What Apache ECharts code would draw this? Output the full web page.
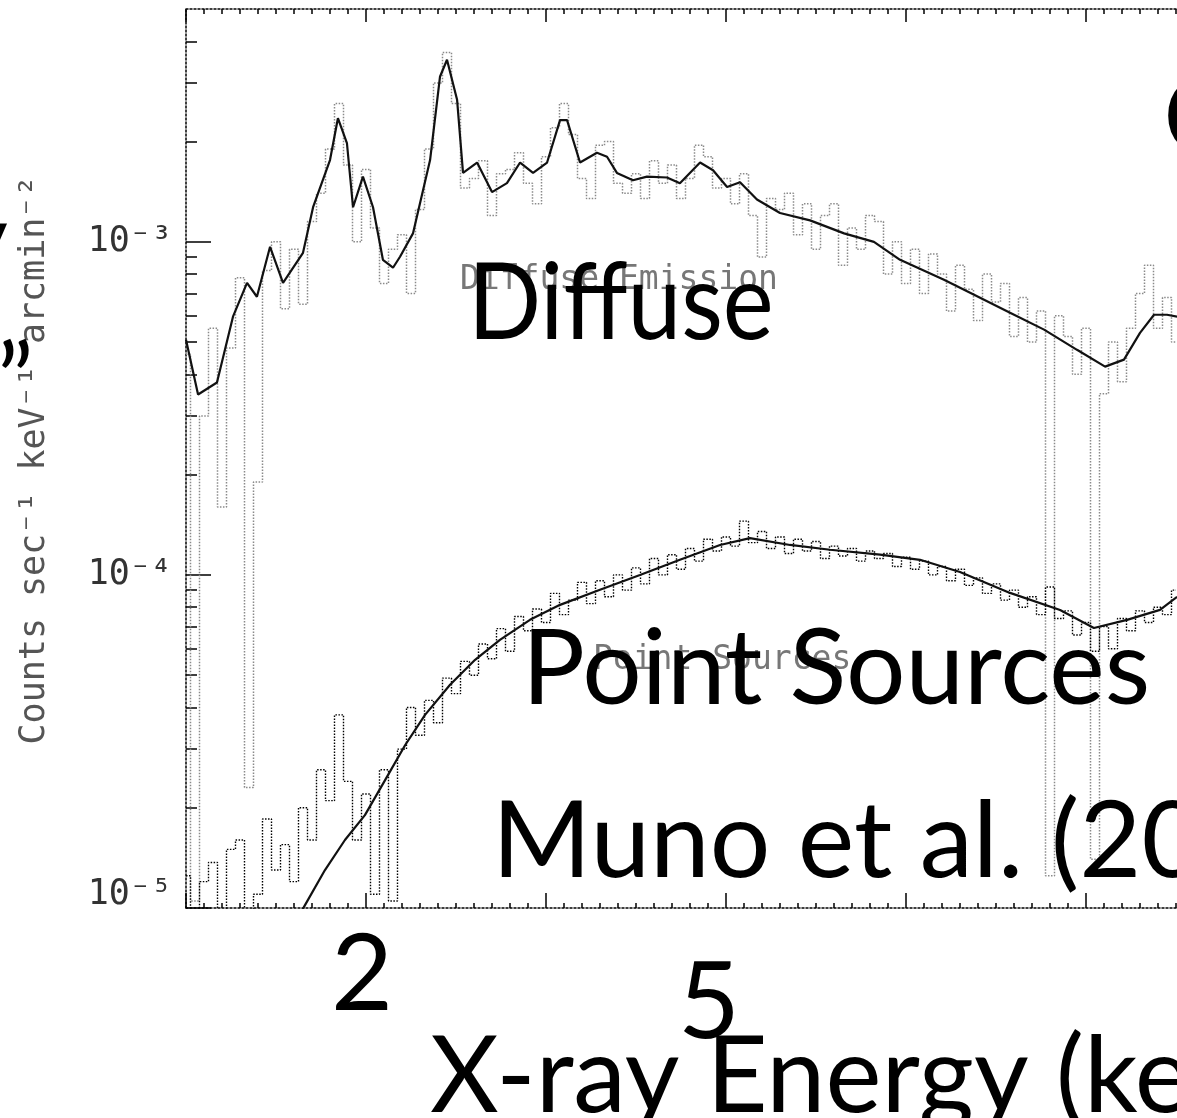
<!DOCTYPE html>
<html><head><meta charset="utf-8">
<script src="https://cdn.jsdelivr.net/npm/echarts@6/dist/echarts.min.js"></script>
<style>html,body{margin:0;padding:0;background:#fff}#c{width:1177px;height:1118px}</style>
</head><body><div id="c"></div>
<script>
// energy bins (keV) of the binned spectra
const binE = [
 1.00,1.05,1.10,1.15,1.20,1.25,1.30,1.35,1.40,1.45,
 1.50,1.55,1.60,1.65,1.70,1.75,1.80,1.85,1.90,1.95,
 2.00,2.05,2.10,2.15,2.20,2.25,2.30,2.35,2.40,2.45,
 2.50,2.55,2.60,2.65,2.70,2.75,2.80,2.85,2.90,2.95,
 3.00,3.05,3.10,3.15,3.20,3.25,3.30,3.35,3.40,3.45,
 3.50,3.55,3.60,3.65,3.70,3.75,3.80,3.85,3.90,3.95,
 4.00,4.05,4.10,4.15,4.20,4.25,4.30,4.35,4.40,4.45,
 4.50,4.55,4.60,4.65,4.70,4.75,4.80,4.85,4.90,4.95,
 5.00,5.05,5.10,5.15,5.20,5.25,5.30,5.35,5.40,5.45,
 5.50,5.55,5.60,5.65,5.70,5.75,5.80,5.85,5.90,5.95,
 6.00,6.05,6.10,6.15,6.20,6.25,6.30,6.35,6.40,6.45,6.50];
// diffuse emission spectrum (counts s^-1 keV^-1 arcmin^-2)
const diffuseData = [
 4.6e-4,1.05e-5,3.0e-4,5.5e-4,1.6e-4,4.8e-4,7.8e-4,2.3e-5,1.9e-4,8.2e-4,
 1.0e-3,6.3e-4,9.5e-4,6.5e-4,1.15e-3,1.4e-3,1.9e-3,2.6e-3,1.7e-3,1.0e-3,
 1.65e-3,1.1e-3,7.5e-4,9.5e-4,1.05e-3,7.0e-4,1.25e-3,1.9e-3,3.0e-3,3.7e-3,
 2.6e-3,1.45e-3,1.55e-3,1.75e-3,1.2e-3,1.6e-3,1.65e-3,1.85e-3,1.5e-3,1.3e-3,
 1.8e-3,2.2e-3,2.6e-3,2.1e-3,1.55e-3,1.35e-3,1.95e-3,2.0e-3,1.5e-3,1.4e-3,
 1.6e-3,1.35e-3,1.75e-3,1.5e-3,1.7e-3,1.35e-3,1.55e-3,1.95e-3,1.8e-3,1.45e-3,
 1.55e-3,1.3e-3,1.6e-3,1.2e-3,9.0e-4,1.35e-3,1.25e-3,1.4e-3,1.05e-3,1.3e-3,
 9.5e-4,1.2e-3,1.3e-3,8.5e-4,1.1e-3,9.5e-4,1.2e-3,1.15e-3,8.0e-4,1.0e-3,
 7.5e-4,9.5e-4,7.0e-4,9.2e-4,8.0e-4,6.2e-4,8.5e-4,7.2e-4,5.8e-4,8.0e-4,
 6.6e-4,7.5e-4,5.2e-4,6.8e-4,5.0e-4,6.2e-4,1.25e-5,6.0e-4,5.2e-4,4.0e-4,
 5.5e-4,1.4e-5,3.5e-4,5.0e-4,3.8e-4,5.5e-4,7.0e-4,8.5e-4,5.5e-4,6.8e-4,5.0e-4];
// point source spectrum
const pointData = [
 1.25e-5,5e-6,1.2e-5,1.37e-5,5e-6,1.5e-5,1.6e-5,5e-6,1.1e-5,1.85e-5,
 1.3e-5,1.55e-5,1.2e-5,2.0e-5,1.6e-5,2.6e-5,2.1e-5,3.8e-5,2.4e-5,1.6e-5,
 2.2e-5,1.1e-5,2.6e-5,1.05e-5,3.0e-5,4.0e-5,3.3e-5,4.2e-5,3.6e-5,4.9e-5,
 4.4e-5,5.5e-5,5.0e-5,6.2e-5,5.6e-5,6.9e-5,5.9e-5,7.5e-5,6.8e-5,7.9e-5,
 7.2e-5,8.8e-5,7.6e-5,8.4e-5,9.5e-5,8.2e-5,9.6e-5,8.6e-5,1.0e-4,9.0e-5,
 1.05e-4,9.4e-5,1.12e-4,1.0e-4,1.15e-4,1.04e-4,1.2e-4,1.1e-4,1.28e-4,1.18e-4,
 1.3e-4,1.22e-4,1.45e-4,1.25e-4,1.35e-4,1.2e-4,1.3e-4,1.16e-4,1.28e-4,1.18e-4,
 1.26e-4,1.12e-4,1.22e-4,1.14e-4,1.2e-4,1.1e-4,1.18e-4,1.12e-4,1.16e-4,1.06e-4,
 1.13e-4,1.04e-4,1.1e-4,1.0e-4,1.06e-4,9.6e-5,1.04e-4,9.3e-5,9.8e-5,8.8e-5,
 9.4e-5,8.4e-5,9.0e-5,8.0e-5,8.6e-5,7.6e-5,9.2e-5,7.4e-5,7.8e-5,6.6e-5,
 7.2e-5,5.9e-5,7.0e-5,6.0e-5,7.4e-5,6.8e-5,7.8e-5,7.2e-5,8.0e-5,7.6e-5,9.0e-5];
// best-fit models
const diffuseModelE = [1.000,1.067,1.172,1.261,1.339,1.394,1.467,1.539,1.650,1.706,
 1.800,1.844,1.894,1.928,1.983,2.039,2.094,2.150,2.189,2.261,
 2.356,2.411,2.450,2.506,2.539,2.617,2.700,2.783,2.856,2.928,
 3.006,3.078,3.117,3.189,3.283,3.339,3.394,3.483,3.561,3.672,
 3.744,3.856,3.928,4.006,4.078,4.172,4.300,4.467,4.656,4.822,
 4.967,5.211,5.356,5.578,5.767,5.950,6.106,6.211,6.300,6.378,6.450,6.506];
const diffuseModel = [5.08e-4,3.48e-4,3.78e-4,5.96e-4,7.53e-4,6.84e-4,9.66e-4,7.53e-4,9.27e-4,1.27e-3,
 1.76e-3,2.35e-3,1.98e-3,1.27e-3,1.57e-3,1.27e-3,8.83e-4,8.36e-4,9.02e-4,1.06e-3,
 1.76e-3,3.13e-3,3.52e-3,2.67e-3,1.61e-3,1.73e-3,1.41e-3,1.50e-3,1.73e-3,1.61e-3,
 1.73e-3,2.32e-3,2.32e-3,1.73e-3,1.85e-3,1.80e-3,1.61e-3,1.53e-3,1.57e-3,1.56e-3,
 1.50e-3,1.73e-3,1.64e-3,1.46e-3,1.51e-3,1.34e-3,1.22e-3,1.16e-3,1.06e-3,1.00e-3,
 8.83e-4,7.69e-4,7.03e-4,6.12e-4,5.45e-4,4.74e-4,4.22e-4,4.43e-4,5.33e-4,6.04e-4,6.04e-4,5.96e-4];
const pointModelE = [1.550,1.661,1.772,1.883,1.994,2.106,2.217,2.328,2.467,2.606,2.744,
 2.911,3.078,3.300,3.522,3.744,3.967,4.133,4.356,4.578,4.856,
 5.078,5.300,5.578,5.856,6.044,6.228,6.411,6.506];
const pointModel = [8.0e-6,1.02e-5,1.30e-5,1.60e-5,1.90e-5,2.42e-5,3.08e-5,3.80e-5,4.68e-5,5.56e-5,6.38e-5,
 7.33e-5,8.13e-5,9.02e-5,1.00e-4,1.11e-4,1.23e-4,1.29e-4,1.23e-4,1.19e-4,1.15e-4,
 1.11e-4,1.02e-4,8.83e-5,7.85e-5,6.93e-5,7.33e-5,7.85e-5,8.59e-5];
// axis ticks
const yTickValues = [1e-5, 1e-4, 1e-3];
const yTickLabels = ['10⁻⁵', '10⁻⁴', '10⁻³'];
const yMinorTickValues = [2e-5,3e-5,4e-5,5e-5,6e-5,7e-5,8e-5,9e-5,
 2e-4,3e-4,4e-4,5e-4,6e-4,7e-4,8e-4,9e-4,2e-3,3e-3,4e-3];

const pair = (xs, ys) => xs.map((x, i) => [x, ys[i]]);
const mono = '"DejaVu Sans Mono", monospace';
const bigFont = 'Lato, "Open Sans", sans-serif';
const dotted = {color: '#000', width: 1.5, type: [2, 2]};

const chart = echarts.init(document.getElementById('c'), null, {renderer: 'canvas'});

function bigText(txt, x, y, size, align, extra) {
  return Object.assign({
    type: 'text', z: 100, x: x, y: y,
    style: {text: txt, x: 0, y: 0, font: size + 'px ' + bigFont, fill: '#000',
      align: align, textAlign: align, verticalAlign: 'middle', textVerticalAlign: 'middle'}
  }, extra || {});
}
function smallText(txt, x, y) {
  return {type: 'text', z: 50, x: x, y: y,
    style: {text: txt, x: 0, y: 0, font: '33px ' + mono, fill: '#777',
      align: 'left', textAlign: 'left', verticalAlign: 'middle', textVerticalAlign: 'middle'}};
}

const option = {
  animation: false,
  backgroundColor: '#fff',
  grid: {left: 186, top: 9, width: 1260, height: 899, containLabel: false, outerBoundsMode: 'none'},
  xAxis: [
    {type: 'value', min: 1, max: 8, interval: 1, position: 'bottom',
     axisLine: {show: true, onZero: false, lineStyle: dotted},
     axisTick: {show: true, inside: true, length: 15, lineStyle: {color: '#000', width: 1.5}},
     minorTick: {show: true, splitNumber: 10, length: 5, lineStyle: {color: '#000', width: 1.5}},
     axisLabel: {show: false}, splitLine: {show: false}, minorSplitLine: {show: false}},
    {type: 'value', min: 1, max: 8, interval: 1, position: 'top',
     axisLine: {show: true, onZero: false, lineStyle: dotted},
     axisTick: {show: true, inside: true, length: 13, lineStyle: {color: '#000', width: 1.5}},
     minorTick: {show: true, splitNumber: 10, length: 5, lineStyle: {color: '#000', width: 1.5}},
     axisLabel: {show: false}, splitLine: {show: false}, minorSplitLine: {show: false}}
  ],
  yAxis: [
    {type: 'log', logBase: 10, min: 1e-5, max: 5e-3, position: 'left',
     axisLine: {show: true, onZero: false, lineStyle: dotted},
     axisTick: {show: true, inside: true, length: 25, customValues: yTickValues,
       lineStyle: {color: '#000', width: 1.5}},
     axisLabel: {show: true, customValues: yTickValues, margin: 14,
       fontFamily: mono, fontSize: 35, color: '#333',
       formatter: function (v) {
         let idx = 0;
         yTickValues.forEach((t, i) => { if (Math.abs(Math.log10(t) - Math.log10(v)) < 1e-6) idx = i; });
         return idx === 0 ? '{lo|' + yTickLabels[idx] + '}' : yTickLabels[idx];
       },
       rich: {lo: {fontFamily: mono, fontSize: 35, color: '#333', padding: [0, 0, 26, 0]}}},
     splitLine: {show: false}},
    {type: 'log', logBase: 10, min: 1e-5, max: 5e-3, position: 'left',
     axisLine: {show: false},
     axisTick: {show: true, inside: true, length: 11, customValues: yMinorTickValues,
       lineStyle: {color: '#000', width: 1.5}},
     axisLabel: {show: false}, splitLine: {show: false}}
  ],
  series: [
    {name: 'Diffuse data', type: 'line', xAxisIndex: 0, yAxisIndex: 0, step: 'middle',
     data: pair(binE, diffuseData), showSymbol: false, z: 1,
     lineStyle: {color: '#8a8a8a', width: 1.5, type: [1.5, 1.5]}},
    {name: 'Diffuse model', type: 'line', xAxisIndex: 0, yAxisIndex: 0,
     data: pair(diffuseModelE, diffuseModel), showSymbol: false, z: 3,
     lineStyle: {color: '#111', width: 2.2}},
    {name: 'Point data', type: 'line', xAxisIndex: 0, yAxisIndex: 0, step: 'middle',
     data: pair(binE, pointData), showSymbol: false, z: 2,
     lineStyle: {color: '#000', width: 1.4, type: [1.5, 1.5]}},
    {name: 'Point model', type: 'line', xAxisIndex: 0, yAxisIndex: 0,
     data: pair(pointModelE, pointModel), showSymbol: false, z: 3,
     lineStyle: {color: '#111', width: 2.2}}
  ],
  graphic: [
    {type: 'text', z: 50, x: 35, y: 460, rotation: Math.PI / 2,
     style: {text: 'Counts sec⁻¹ keV⁻¹ arcmin⁻²', x: 0, y: 0, font: '35px ' + mono, fill: '#555',
       align: 'center', textAlign: 'center', verticalAlign: 'middle', textVerticalAlign: 'middle'}},
    smallText('Diffuse Emission', 460, 280),
    smallText('Point Sources', 593, 660),
    bigText('Diffuse', 468, 304, 107, 'left', {scaleX: 0.9}),
    bigText('Point Sources', 522, 670, 105, 'left'),
    bigText('Muno et al. (2004)', 492, 842, 107, 'left'),
    bigText('X-ray Energy (keV)', 430, 1078, 106, 'left'),
    bigText('2', 362, 975, 107, 'center'),
    bigText('5', 709, 1003, 107, 'center'),
    bigText('G', 1163, 120, 110, 'left'),
    bigText('y', 8, 243, 107, 'right'),
    bigText('”', -3, 384, 100, 'left')
  ]
};
chart.setOption(option);
</script>
</body></html>
